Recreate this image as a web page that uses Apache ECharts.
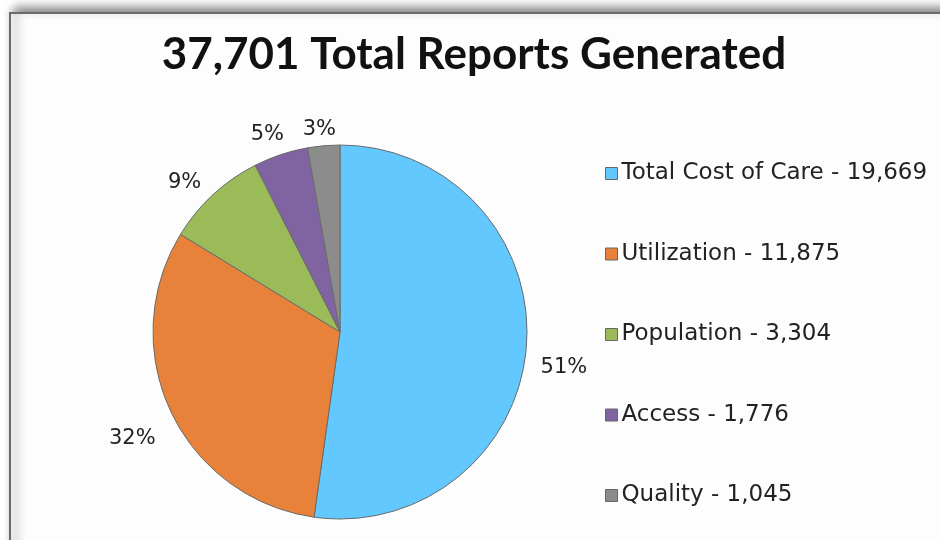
<!DOCTYPE html>
<html>
<head>
<meta charset="utf-8">
<script src="https://cdn.jsdelivr.net/npm/echarts@6/dist/echarts.min.js"></script>
<style>
  html, body { margin: 0; padding: 0; background: #ffffff; }
  #chart { width: 940px; height: 540px; }
</style>
</head>
<body>
<div id="chart"></div>
<script>
// report categories and counts
const categories = ['Total Cost of Care', 'Utilization', 'Population', 'Access', 'Quality'];
const reportCounts = [19669, 11875, 3304, 1776, 1045];
const pctLabels = ['51%', '32%', '9%', '5%', '3%'];
const sliceColors = ['#63C8FE', '#E8823A', '#9BBB59', '#8064A2', '#8C8C8C'];
const titleText = '37,701 Total Reports Generated';

// small nudges so the percent labels sit where Excel put them
const labelNudge = [[1, 22], [-3, 23], [-6, -6], [38, -26], [18, -8]];

const chart = echarts.init(document.getElementById('chart'));

const fmt = n => n.toLocaleString('en-US');

chart.setOption({
  animation: false,
  backgroundColor: '#ffffff',
  graphic: [
    {
      type: 'rect',
      z: -10,
      shape: { x: 10, y: 13, width: 960, height: 560 },
      style: {
        fill: '#fdfdfd',
        stroke: '#6a6a6a',
        lineWidth: 2,
        shadowBlur: 10,
        shadowOffsetY: -4,
        shadowOffsetX: 5,
        shadowColor: 'rgba(0,0,0,0.5)'
      }
    }
  ],
  title: {
    text: titleText,
    left: 469,
    top: 28,
    textAlign: 'center',
    textStyle: {
      fontFamily: 'Lato',
      fontWeight: 'bold',
      fontSize: 44,
      color: '#111'
    }
  },
  legend: {
    orient: 'vertical',
    left: 600,
    top: 157,
    itemWidth: 12,
    itemHeight: 12,
    itemGap: 57.5,
    icon: 'rect',
    itemStyle: { borderColor: '#666', borderWidth: 1 },
    formatter: name => name + ' - ' + fmt(reportCounts[categories.indexOf(name)]),
    textStyle: {
      fontFamily: 'DejaVu Sans',
      fontSize: 23,
      color: '#222',
      padding: [0, 0, 0, -1]
    }
  },
  series: [
    {
      type: 'pie',
      center: [340, 332],
      radius: 187,
      startAngle: 90,
      clockwise: true,
      itemStyle: { borderColor: '#6b6b6b', borderWidth: 1 },
      label: {
        show: true,
        position: 'outside',
        formatter: p => pctLabels[p.dataIndex],
        fontFamily: 'DejaVu Sans',
        fontSize: 21,
        color: '#222'
      },
      labelLine: { show: false, length: 8, length2: 0 },
      labelLayout: p => ({ dx: labelNudge[p.dataIndex][0], dy: labelNudge[p.dataIndex][1] }),
      emphasis: { disabled: true },
      data: categories.map((c, i) => ({
        name: c,
        value: reportCounts[i],
        itemStyle: { color: sliceColors[i] }
      }))
    }
  ]
});
</script>
</body>
</html>
